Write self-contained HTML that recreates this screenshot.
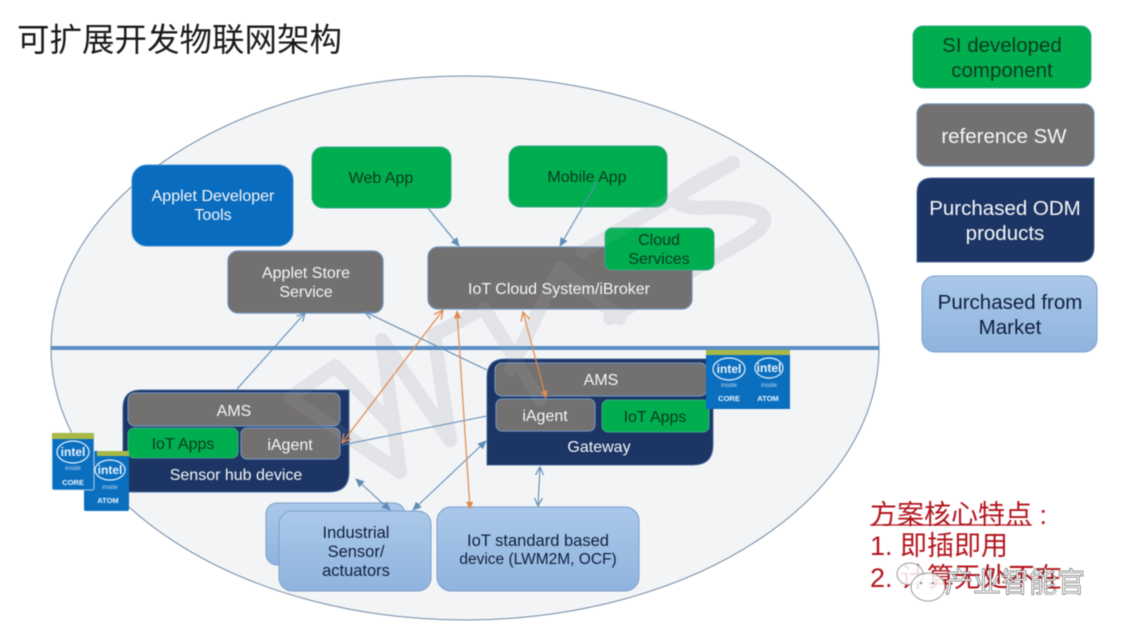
<!DOCTYPE html>
<html lang="zh">
<head>
<meta charset="utf-8">
<title>可扩展开发物联网架构</title>
<style>
html,body{margin:0;padding:0;background:#fff;width:1122px;height:632px;overflow:hidden}
svg{display:block;filter:blur(.4px)}
text{font-family:"Liberation Sans","Noto Sans CJK SC",sans-serif;text-anchor:middle}
.w{fill:#f4f6f8}.k{fill:#0c3a1e}.d{fill:#101f3d}
.gn{fill:#00ae50;stroke:#3aa88a;stroke-width:1}
.gy{fill:#737070;stroke:#6f90ba;stroke-width:1.2}
.lb{fill:url(#lb);stroke:#7c9fca;stroke-width:1}
.nv{fill:#1d3564;stroke:#4a6c9f;stroke-width:1}
.a{fill:none;stroke:#5f8db8;stroke-width:1.1}
.o{fill:none;stroke:#e08a4e;stroke-width:1.2}
.m{fill:none;stroke:#e2e3e6;stroke-width:14;stroke-linecap:round;stroke-linejoin:round}
.mt{fill:none;stroke:#fff;stroke-opacity:.06;stroke-width:13;stroke-linecap:round;stroke-linejoin:round}
.cn{font-family:"Liberation Sans","Noto Sans CJK SC",sans-serif;text-anchor:start}
.ib{fill:#0b6fc0}
.il{fill:#e9f3fb;font-size:12px;font-weight:bold}
.is{fill:#b9d8f0;font-size:6px}
.ic{fill:#e9f3fb;font-size:7.5px;font-weight:bold}
.ie{fill:none;stroke:#e9f3fb;stroke-width:1.2}
</style>
</head>
<body>
<svg width="1122" height="632" viewBox="0 0 1122 632" xmlns="http://www.w3.org/2000/svg">
<defs>
<linearGradient id="lb" x1="0" y1="0" x2="0" y2="1"><stop offset="0" stop-color="#aac8ea"/><stop offset="1" stop-color="#90b4de"/></linearGradient>
<marker id="bo" viewBox="0 0 10 10" refX="9" refY="5" markerWidth="10" markerHeight="10" orient="auto-start-reverse" markerUnits="userSpaceOnUse"><path d="M1 1L9 5L1 9" fill="none" stroke="#5f8db8" stroke-width="1.2"/></marker>
<marker id="bf" viewBox="0 0 10 10" refX="9" refY="5" markerWidth="10" markerHeight="10" orient="auto-start-reverse" markerUnits="userSpaceOnUse"><path d="M1 1L10 5L1 9z" fill="#5f8db8"/></marker>
<marker id="oo" viewBox="0 0 10 10" refX="9" refY="5" markerWidth="11" markerHeight="11" orient="auto-start-reverse" markerUnits="userSpaceOnUse"><path d="M1 1L9 5L1 9" fill="none" stroke="#e08a4e" stroke-width="1.2"/></marker>
<marker id="of" viewBox="0 0 10 10" refX="9" refY="5" markerWidth="9" markerHeight="9" orient="auto-start-reverse" markerUnits="userSpaceOnUse"><path d="M1 1L10 5L1 9z" fill="#e08a4e"/></marker>
</defs>

<text class="cn" x="17" y="51" font-size="32.5" fill="#1a1a1a">可扩展开发物联网架构</text>

<ellipse cx="465" cy="348" rx="414" ry="272" fill="#f3f4f6" stroke="#6f8aa8" stroke-width="1"/>

<!-- watermark -->
<path class="m" d="M400 472L290 398L335 366L392 425"/>
<path class="m" d="M400 472L382 340L450 440L434 335L484 308L540 400"/>
<path class="m" d="M510 370L560 268L620 318"/>
<path class="m" d="M582 252L733 163"/>
<path class="m" d="M733 163C680 190 655 205 700 208C760 205 785 215 745 240L610 318"/>

<line x1="51" y1="348" x2="879" y2="348" stroke="#5b8fc4" stroke-width="4"/>

<!-- top boxes -->
<rect class="gn" x="312" y="147" width="139" height="61" rx="11"/>
<text class="k" x="381" y="183" font-size="16">Web App</text>
<rect class="gn" x="509" y="146" width="158" height="61" rx="11"/>
<text class="k" x="587" y="182" font-size="16">Mobile App</text>
<rect x="132" y="165" width="161" height="81" rx="15" fill="#0a6cbf" stroke="#3d8fd0"/>
<text class="w" x="213" y="201" font-size="16">Applet Developer</text>
<text class="w" x="213" y="220" font-size="16">Tools</text>
<rect class="gy" x="228" y="251" width="155" height="62" rx="10"/>
<text class="w" x="306" y="278" font-size="16">Applet Store</text>
<text class="w" x="306" y="297" font-size="16">Service</text>
<rect class="gy" x="428" y="247" width="264" height="62" rx="10"/>
<text class="w" x="559" y="294" font-size="16">IoT Cloud System/iBroker</text>
<rect class="gn" x="605" y="228" width="109" height="42" rx="7"/>
<text class="k" x="659" y="245" font-size="16">Cloud</text>
<text class="k" x="659" y="264" font-size="16">Services</text>

<!-- sensor hub -->
<path class="nv" d="M141 390H349V472Q349 492 329 492H123V408Q123 390 141 390Z"/>
<rect class="gy" x="128" y="393" width="212" height="33" rx="7"/>
<text class="w" x="234" y="416" font-size="16">AMS</text>
<rect class="gn" x="128" y="428" width="110" height="30" rx="6"/>
<text class="k" x="183" y="449" font-size="16">IoT Apps</text>
<rect class="gy" x="241" y="428" width="99" height="31" rx="6"/>
<text class="w" x="290" y="450" font-size="16">iAgent</text>
<text class="w" x="236" y="480" font-size="16">Sensor hub device</text>

<!-- gateway -->
<path class="nv" d="M505 359H713V445Q713 465 693 465H487V377Q487 359 505 359Z"/>
<rect class="gy" x="495" y="363" width="212" height="33" rx="7"/>
<text class="w" x="601" y="385" font-size="16">AMS</text>
<rect class="gy" x="496" y="399" width="99" height="32" rx="6"/>
<text class="w" x="545" y="421" font-size="16">iAgent</text>
<rect class="gn" x="602" y="400" width="107" height="32" rx="6"/>
<text class="k" x="655" y="422" font-size="16">IoT Apps</text>
<text class="w" x="599" y="452" font-size="16">Gateway</text>

<!-- lower devices -->
<rect class="lb" x="266" y="503" width="139" height="62" rx="11"/>
<rect class="lb" x="279" y="511" width="152" height="80" rx="13"/>
<text class="d" x="356" y="538" font-size="16.5">Industrial</text>
<text class="d" x="356" y="557" font-size="16.5">Sensor/</text>
<text class="d" x="356" y="576" font-size="16.5">actuators</text>
<rect class="lb" x="437" y="507" width="202" height="84" rx="14"/>
<text class="d" x="538" y="546" font-size="16.5">IoT standard based</text>
<text class="d" x="538" y="564" font-size="15.5">device (LWM2M, OCF)</text>

<!-- faint watermark on top of boxes -->
<path class="mt" d="M400 472L290 398L335 366L392 425"/>
<path class="mt" d="M484 308L540 400M510 370L560 268L620 318M582 252L733 163"/>

<!-- connectors -->
<line class="a" x1="428" y1="208" x2="459" y2="246" marker-end="url(#bf)"/>
<line class="a" x1="597" y1="182" x2="560" y2="246" marker-end="url(#bf)"/>
<line class="a" x1="237" y1="389" x2="305" y2="313" marker-end="url(#bo)"/>
<line class="a" x1="487" y1="370" x2="365" y2="312" marker-end="url(#bo)"/>
<line class="a" x1="487" y1="416" x2="342" y2="445"/>
<line class="a" x1="356" y1="479" x2="390" y2="510" marker-start="url(#bf)" marker-end="url(#bf)"/>
<line class="a" x1="486" y1="441" x2="413" y2="510" marker-start="url(#bf)" marker-end="url(#bf)"/>
<line class="a" x1="540" y1="467" x2="538" y2="506" marker-start="url(#bo)" marker-end="url(#bo)"/>
<line class="o" x1="342" y1="443" x2="443" y2="310" marker-start="url(#oo)" marker-end="url(#oo)"/>
<line class="o" x1="457" y1="311" x2="470" y2="509" marker-start="url(#of)" marker-end="url(#of)"/>
<line class="o" x1="523" y1="312" x2="546" y2="398" marker-start="url(#oo)" marker-end="url(#of)"/>

<!-- intel badges -->
<g>
<rect class="ib" x="84" y="451" width="45" height="60" rx="2"/>
<rect x="97" y="451" width="32" height="5" fill="#a8b948"/>
<ellipse class="ie" cx="110" cy="470" rx="15" ry="10"/>
<text class="il" x="110" y="474">intel</text>
<text class="is" x="110" y="489">inside</text>
<text class="ic" x="108" y="503">ATOM</text>
</g>
<g>
<rect class="ib" x="52" y="433" width="42" height="57" rx="2" stroke="#d8e8f4" stroke-width=".8"/>
<rect x="52" y="433" width="42" height="6" fill="#a8b948"/>
<ellipse class="ie" cx="73" cy="452" rx="16" ry="11"/>
<text class="il" x="73" y="456">intel</text>
<text class="is" x="73" y="470">inside</text>
<text class="ic" x="73" y="485">CORE</text>
</g>
<g>
<rect class="ib" x="752" y="351" width="38" height="58"/>
<rect x="752" y="350" width="38" height="5" fill="#a8b948"/>
<ellipse class="ie" cx="769" cy="368" rx="14" ry="10"/>
<text class="il" x="769" y="372">intel</text>
<text class="is" x="769" y="387">inside</text>
<text class="ic" x="768" y="401">ATOM</text>
</g>
<g>
<rect class="ib" x="706" y="351" width="46" height="58"/>
<rect x="706" y="350" width="46" height="5" fill="#a8b948"/>
<ellipse class="ie" cx="729" cy="369" rx="16" ry="11"/>
<text class="il" x="729" y="373">intel</text>
<text class="is" x="729" y="387">inside</text>
<text class="ic" x="729" y="401">CORE</text>
</g>

<!-- legend -->
<rect class="gn" x="913" y="26" width="178" height="62" rx="10"/>
<text class="k" x="1002" y="52" font-size="20.5">SI developed</text>
<text class="k" x="1002" y="77" font-size="20.5">component</text>
<rect class="gy" x="917" y="104" width="177" height="62" rx="10"/>
<text class="w" x="1004" y="143" font-size="20.5">reference SW</text>
<path class="nv" d="M932 178H1094V247Q1094 262 1079 262H917V193Q917 178 932 178Z"/>
<text class="w" x="1005" y="215" font-size="20.5">Purchased ODM</text>
<text class="w" x="1005" y="240" font-size="20.5">products</text>
<rect class="lb" x="922" y="276" width="175" height="76" rx="13"/>
<text class="d" x="1010" y="309" font-size="20.5">Purchased from</text>
<text class="d" x="1010" y="334" font-size="20.5">Market</text>

<!-- red notes -->
<text class="cn" x="870" y="524" font-size="27" fill="#b3141d">方案核心特点 :</text>
<line x1="870" y1="525" x2="1032" y2="525" stroke="#b3141d" stroke-width="1.3"/>
<text class="cn" x="870" y="555" font-size="27" fill="#b3141d">1. 即插即用</text>
<text class="cn" x="870" y="587" font-size="27" fill="#b3141d">2. 计算无处不在</text>

<!-- WeChat watermark -->
<g fill="#fff" fill-opacity=".85" stroke="#9a9a9a" stroke-width="1">
<ellipse cx="910" cy="574" rx="13" ry="11"/>
<ellipse cx="928" cy="587" rx="17" ry="14"/>
</g>
<g fill="#888">
<circle cx="921" cy="583" r="1.2"/>
<circle cx="933" cy="583" r="1.2"/>
</g>
<text class="cn" x="945" y="592" font-size="28" fill="#fff" stroke="#555" stroke-width=".6">产业智能官</text>
</svg>
</body>
</html>
